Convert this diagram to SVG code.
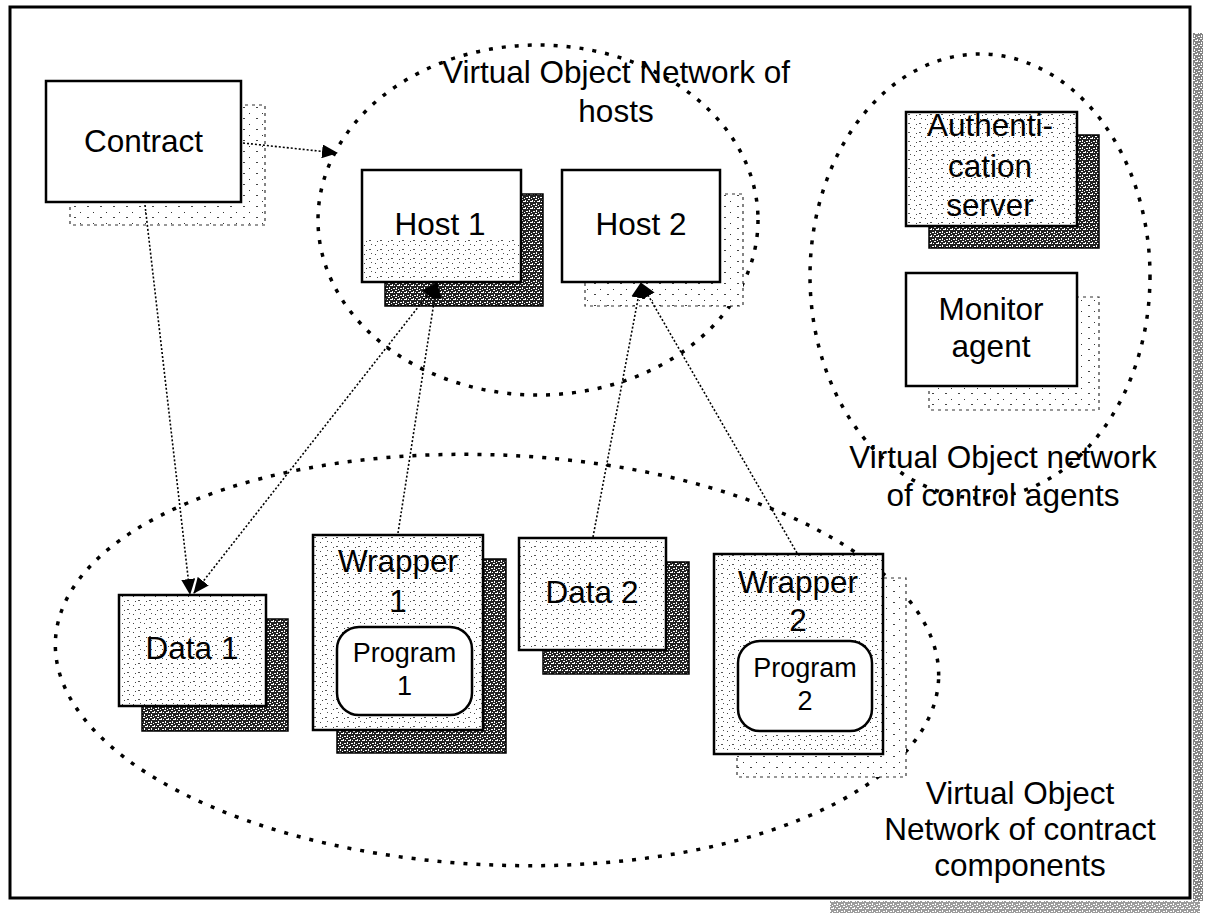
<svg xmlns="http://www.w3.org/2000/svg" width="1205" height="916" viewBox="0 0 1205 916">
  <defs>
    <!-- heavy stipple used for the drop shadows of the shaded objects -->
    <pattern id="dense" width="7" height="7" patternUnits="userSpaceOnUse">
      <rect width="7" height="7" fill="#222"/>
      <rect x="1" y="1" width="2" height="1" fill="#fff"/>
      <rect x="4" y="0" width="1" height="2" fill="#fff"/>
      <rect x="3" y="3" width="2" height="1" fill="#fff"/>
      <rect x="0" y="4" width="1" height="2" fill="#fff"/>
      <rect x="5" y="5" width="2" height="1" fill="#fff"/>
      <rect x="2" y="5" width="1" height="1" fill="#fff"/>
      <rect x="6" y="2" width="1" height="1" fill="#fff"/>
    </pattern>
    <!-- faint speckle for box interiors -->
    <pattern id="speck" width="11" height="9" patternUnits="userSpaceOnUse">
      <rect width="11" height="9" fill="#fff"/>
      <rect x="1" y="2" width="1" height="1" fill="#444"/>
      <rect x="6" y="6" width="2" height="1" fill="#555"/>
      <rect x="8" y="1" width="1" height="1" fill="#555"/>
      <rect x="3" y="7" width="1" height="1" fill="#444"/>
    </pattern>
    <!-- sparse speckle for the light shadows -->
    <pattern id="sparse" width="13" height="11" patternUnits="userSpaceOnUse">
      <rect width="13" height="11" fill="#fff"/>
      <rect x="2" y="3" width="1" height="1" fill="#333"/>
      <rect x="9" y="8" width="2" height="1" fill="#444"/>
    </pattern>
    <marker id="arrow" viewBox="0 0 16 14" markerWidth="16" markerHeight="14" refX="15" refY="7" orient="auto-start-reverse" markerUnits="userSpaceOnUse">
      <path d="M0,0 L16,7 L0,14 z" fill="#000"/>
    </marker>
  </defs>
  <style>
    .box { fill: #fff; stroke: #000; stroke-width: 2.5; }
    .boxs { fill: url(#speck); stroke: #000; stroke-width: 2.5; }
    .sh-dense { fill: url(#dense); stroke: #000; stroke-width: 1.5; }
    .sh-light { fill: url(#sparse); stroke: #333; stroke-width: 1.2; stroke-dasharray: 3 4; }
    .prog { fill: #fff; stroke: #000; stroke-width: 2.5; }
    .net { fill: none; stroke: #000; stroke-width: 3.5; stroke-dasharray: 4 9; }
    .link { fill: none; stroke: #000; stroke-width: 1.6; stroke-dasharray: 2 2; }
    text { font-family: "Liberation Sans", Arial, sans-serif; font-size: 31.5px; fill: #000; text-anchor: middle; }
    .small { font-size: 27px; }
  </style>

  <rect width="1205" height="916" fill="#fff"/>

  <!-- page frame with its shaded edge -->
  <g id="frame">
    <rect x="1193" y="33" width="10" height="868" fill="url(#dense)" opacity="0.55"/>
    <rect x="830" y="901" width="370" height="12" fill="url(#dense)" opacity="0.45"/>
    <rect x="10" y="7" width="1180" height="891" fill="none" stroke="#000" stroke-width="3"/>
  </g>

  <!-- virtual object networks -->
  <g id="net-hosts">
    <ellipse cx="538" cy="220" rx="220" ry="175" class="net"/>
    <text x="616" y="83">Virtual Object Network of</text>
    <text x="616" y="122">hosts</text>
  </g>
  <g id="net-control">
    <ellipse cx="980" cy="276" rx="170" ry="222" class="net"/>
    <text x="1003" y="468">Virtual Object network</text>
    <text x="1003" y="506">of control agents</text>
  </g>
  <g id="net-components">
    <ellipse cx="497" cy="660" rx="442" ry="205" class="net" transform="rotate(2.5 497 660)"/>
    <text x="1020" y="804">Virtual Object</text>
    <text x="1020" y="840">Network of contract</text>
    <text x="1020" y="876">components</text>
  </g>

  <!-- objects -->
  <g id="contract">
    <rect x="70" y="105" width="195" height="120" class="sh-light"/>
    <rect x="46" y="81" width="195" height="121" class="box"/>
    <text x="143.5" y="152">Contract</text>
  </g>
  <g id="host1">
    <rect x="385" y="194" width="158" height="112" class="sh-dense"/>
    <rect x="362" y="170" width="159" height="112" class="box"/>
    <rect x="364" y="240" width="155" height="40" fill="url(#speck)"/>
    <text x="440" y="235">Host 1</text>
  </g>
  <g id="host2">
    <rect x="585" y="194" width="158" height="112" class="sh-light"/>
    <rect x="562" y="170" width="158" height="112" class="box"/>
    <text x="641" y="235">Host 2</text>
  </g>
  <g id="auth-server">
    <rect x="929" y="135" width="170" height="113" class="sh-dense"/>
    <rect x="906" y="112" width="171" height="114" class="boxs"/>
    <text x="990" y="136">Authenti-</text>
    <text x="990" y="177">cation</text>
    <text x="990" y="216">server</text>
  </g>
  <g id="monitor-agent">
    <rect x="929" y="297" width="170" height="113" class="sh-light"/>
    <rect x="906" y="273" width="171" height="113" class="box"/>
    <text x="991" y="320">Monitor</text>
    <text x="991" y="357">agent</text>
  </g>
  <g id="data1">
    <rect x="142" y="619" width="146" height="112" class="sh-dense"/>
    <rect x="119" y="595" width="147" height="111" class="boxs"/>
    <text x="192" y="659">Data 1</text>
  </g>
  <g id="wrapper1">
    <rect x="337" y="559" width="169" height="194" class="sh-dense"/>
    <rect x="313" y="535" width="170" height="195" class="boxs"/>
    <text x="398" y="572">Wrapper</text>
    <text x="398" y="612">1</text>
    <rect x="337" y="627" width="135" height="88" rx="22" class="prog"/>
    <text x="404.5" y="662" class="small">Program</text>
    <text x="404.5" y="695" class="small">1</text>
  </g>
  <g id="data2">
    <rect x="543" y="562" width="146" height="112" class="sh-dense"/>
    <rect x="519" y="538" width="147" height="112" class="boxs"/>
    <text x="592" y="603">Data 2</text>
  </g>
  <g id="wrapper2">
    <rect x="737" y="578" width="169" height="199" class="sh-light"/>
    <rect x="714" y="554" width="169" height="200" class="boxs"/>
    <text x="798" y="593">Wrapper</text>
    <text x="798" y="631">2</text>
    <rect x="738" y="641" width="134" height="90" rx="22" class="prog"/>
    <text x="805" y="677" class="small">Program</text>
    <text x="805" y="710" class="small">2</text>
  </g>

  <!-- connectors -->
  <g id="connectors">
    <line x1="243" y1="143" x2="337" y2="153" class="link" marker-end="url(#arrow)"/>
    <line x1="145" y1="205" x2="190" y2="594" class="link" marker-end="url(#arrow)"/>
    <line x1="437" y1="283" x2="194" y2="593" class="link" marker-start="url(#arrow)" marker-end="url(#arrow)"/>
    <line x1="398" y1="533" x2="437" y2="283" class="link" marker-end="url(#arrow)"/>
    <line x1="593" y1="537" x2="641" y2="283" class="link" marker-end="url(#arrow)"/>
    <line x1="797" y1="553" x2="641" y2="283" class="link" marker-end="url(#arrow)"/>
  </g>
</svg>
